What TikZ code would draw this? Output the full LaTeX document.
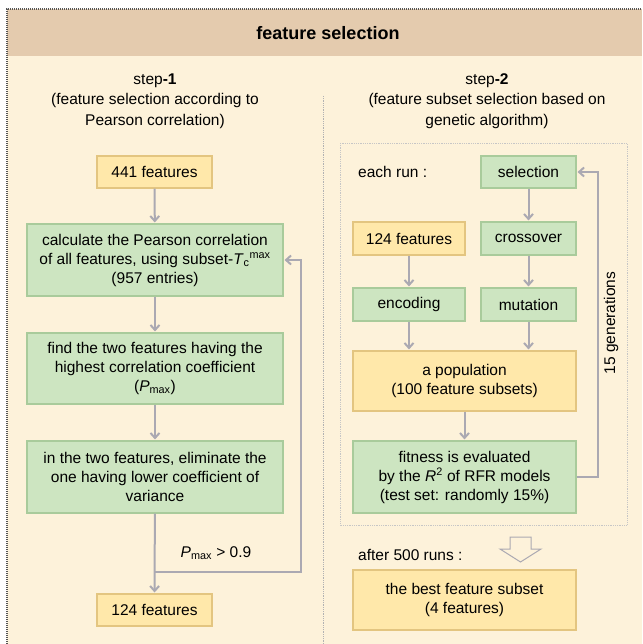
\documentclass[tikz,border=0pt]{standalone}
\usepackage{fontspec}
\setmainfont{Liberation Sans}
\usepackage{xcolor}
\usetikzlibrary{arrows.meta}
\definecolor{headtan}{HTML}{E4CBAE}
\definecolor{bodycream}{HTML}{FDF2DA}
\definecolor{boxgreen}{HTML}{CDE5C1}
\definecolor{edgegreen}{HTML}{A9CB9B}
\definecolor{boxyellow}{HTML}{FFE8AA}
\definecolor{edgeyellow}{HTML}{E3C580}
\definecolor{flowgray}{HTML}{ABA9B2}
\definecolor{framegray}{HTML}{555555}

\begin{document}
\begin{tikzpicture}[x=1pt,y=-1pt,
  every node/.style={font=\fontsize{15.5}{19}\selectfont, inner sep=0pt, align=center},
  greenbox/.style={draw=edgegreen, fill=boxgreen, line width=1.1pt},
  yellowbox/.style={draw=edgeyellow, fill=boxyellow, line width=1.1pt},
  flow/.style={draw=flowgray, line width=2pt, shorten >=1pt, -{Straight Barb[length=5pt,width=9pt]}}]
	\useasboundingbox (0,0) rectangle (642,644);
	\fill[bodycream] (7,56) rectangle (642,644);
	\fill[headtan] (7,9) rectangle (642,56);
	\draw[framegray, dash pattern=on 1pt off 1pt, line width=1.8pt] (7,644) -- (7,9) -- (642,9);
	\draw[gray!60, densely dotted, line width=0.8pt] (323,96) -- (323,644);
	\draw[gray!45, densely dotted, line width=0.8pt] (340,143) rectangle (627,525);

	\node[font=\fontsize{18}{22}\selectfont\bfseries] (title) at (328,33) {feature selection};
	\node[font=\fontsize{15.5}{20.5}\selectfont] (stepone) at (155,101) {step\textbf{-1}\\(feature selection according to\\Pearson correlation)};
	\node[font=\fontsize{15.5}{20.5}\selectfont] (steptwo) at (487,101) {step\textbf{-2}\\(feature subset selection based on\\genetic algorithm)};

	\node[yellowbox, minimum width=115pt, minimum height=32pt] (in441) at (154.5,172) {441 features};
	\node[greenbox, minimum width=256pt, minimum height=72pt] (pearson) at (155,260) {calculate the Pearson correlation\\of all features, using subset-\textit{T}\textsubscript{c}\textsuperscript{max}\\(957 entries)};
	\node[greenbox, minimum width=256pt, minimum height=71pt] (findmax) at (155,368.5) {find the two features having the\\highest correlation coefficient\\(\textit{P}\textsubscript{max})};
	\node[greenbox, minimum width=256pt, minimum height=72pt] (elim) at (155,477) {in the two features, eliminate the\\one having lower coefficient of\\variance};
	\node[yellowbox, minimum width=115pt, minimum height=32pt] (out124) at (154.5,610) {124 features};
	\node (pcond) at (216,553) {\textit{P}\textsubscript{max} > 0.9};
	\coordinate (jn) at (155,572);

	\node[anchor=west] (eachrun) at (358,172) {each run :};
	\node[greenbox, minimum width=95pt, minimum height=32pt] (sel) at (528.5,172) {selection};
	\node[greenbox, minimum width=95pt, minimum height=33pt] (cross) at (528.5,238.5) {crossover};
	\node[greenbox, minimum width=95pt, minimum height=33pt] (mut) at (528.5,304.5) {mutation};
	\node[yellowbox, minimum width=112pt, minimum height=33pt] (in124) at (409,238.5) {124 features};
	\node[greenbox, minimum width=112pt, minimum height=33pt] (enc) at (409,304.5) {encoding};
	\node[yellowbox, minimum width=223pt, minimum height=60pt] (pop) at (464.5,381) {a population\\(100 feature subsets)};
	\node[greenbox, minimum width=223pt, minimum height=72pt] (fit) at (464.5,477) {fitness is evaluated\\by the \textit{R}\textsuperscript{2} of RFR models\\(test set: randomly 15\%)};
	\node[rotate=90] (gens) at (611,323) {15 generations};
	\node[anchor=west] (after) at (358,555) {after 500 runs :};
	\node[yellowbox, minimum width=223pt, minimum height=60pt] (best) at (464.5,600) {the best feature subset\\(4 features)};

	\draw[flow] (in441) -- (pearson);
	\draw[flow] (pearson) -- (findmax);
	\draw[flow] (findmax) -- (elim);
	\draw[flow] (elim) -- (out124);
	\draw[flow] (jn) -- ++(146,0) |- (pearson.east);

	\draw[flow] (sel) -- (cross);
	\draw[flow] (cross) -- (mut);
	\draw[flow] (mut) -- (mut |- pop.north);
	\draw[flow] (in124) -- (enc);
	\draw[flow] (enc) -- (enc |- pop.north);
	\draw[flow] (pop) -- (fit);
	\draw[flow] (fit.east) -- ++(21,0) |- (sel.east);

	\draw[flowgray, fill=bodycream, line width=1pt] (510,537) -- (531,537) -- (531,549) -- (541,549) -- (520.5,562) -- (500,549) -- (510,549) -- cycle;
\end{tikzpicture}
\end{document}
